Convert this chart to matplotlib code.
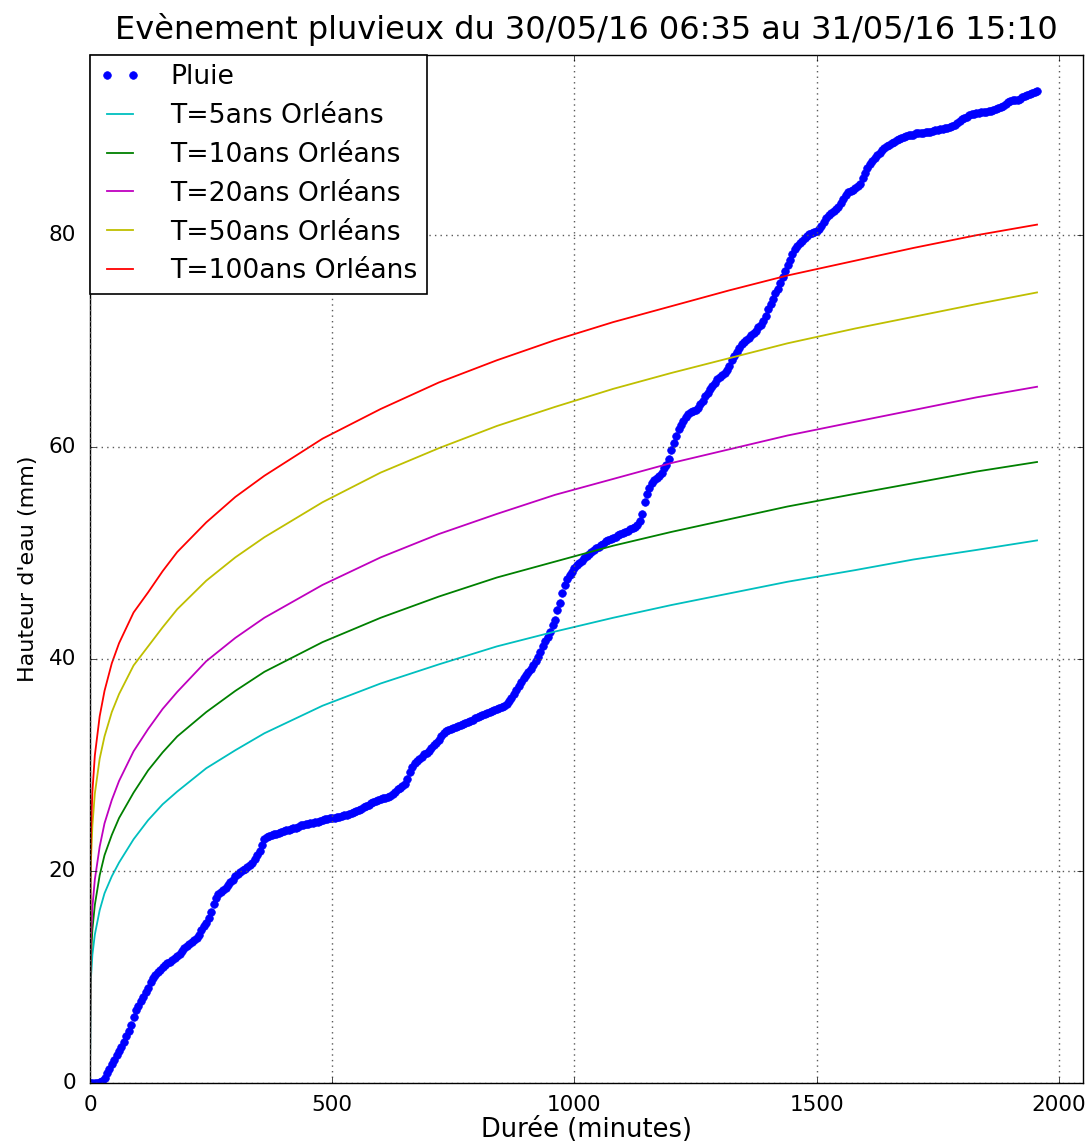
import numpy as np
import matplotlib
matplotlib.use("Agg")
import matplotlib.pyplot as plt

# Pluie cumulée, un point toutes les 5 minutes (mm)
pluie_t = np.arange(0, 1960, 5)
pluie_h = [
    0, 0, 0, 0, 0.1, 0.2, 0.5, 0.9, 1.3, 1.8, 2.2, 2.6,
    3.0, 3.4, 3.9, 4.4, 4.9, 5.5, 6.2, 6.9, 7.3, 7.7, 8.1, 8.6,
    9.0, 9.5, 9.9, 10.2, 10.5, 10.7, 10.9, 11.1, 11.3, 11.4, 11.6, 11.8,
    12.0, 12.2, 12.5, 12.7, 12.9, 13.1, 13.3, 13.5, 13.7, 14.0, 14.4, 14.8,
    15.1, 15.6, 16.1, 16.9, 17.5, 17.8, 18.0, 18.2, 18.4, 18.7, 19.0, 19.2,
    19.5, 19.7, 19.9, 20.1, 20.2, 20.4, 20.6, 20.8, 21.1, 21.5, 21.9, 22.5,
    23.0, 23.2, 23.3, 23.4, 23.5, 23.5, 23.6, 23.7, 23.8, 23.9, 23.9, 24.0,
    24.1, 24.1, 24.2, 24.3, 24.3, 24.4, 24.4, 24.5, 24.5, 24.6, 24.6, 24.7,
    24.8, 24.9, 24.9, 25.0, 25.0, 25.0, 25.1, 25.1, 25.2, 25.3, 25.3, 25.4,
    25.5, 25.6, 25.7, 25.8, 25.9, 26.0, 26.1, 26.2, 26.4, 26.5, 26.6, 26.7,
    26.8, 26.9, 26.9, 27.0, 27.1, 27.3, 27.5, 27.7, 27.8, 28.0, 28.2, 28.7,
    29.3, 29.8, 30.2, 30.4, 30.6, 30.8, 31.0, 31.1, 31.3, 31.6, 31.9, 32.1,
    32.4, 32.7, 33.0, 33.2, 33.3, 33.4, 33.5, 33.6, 33.7, 33.8, 33.9, 34.0,
    34.1, 34.2, 34.3, 34.4, 34.5, 34.6, 34.7, 34.8, 34.9, 35.0, 35.1, 35.2,
    35.3, 35.4, 35.5, 35.6, 35.8, 36.0, 36.3, 36.7, 37.1, 37.5, 37.8, 38.2,
    38.5, 38.8, 39.1, 39.4, 39.8, 40.2, 40.7, 41.2, 41.7, 42.1, 42.6, 43.2,
    43.7, 44.6, 45.3, 46.2, 47.0, 47.6, 47.9, 48.2, 48.6, 48.9, 49.1, 49.3,
    49.5, 49.7, 49.9, 50.1, 50.3, 50.5, 50.6, 50.8, 50.9, 51.1, 51.2, 51.3,
    51.4, 51.5, 51.7, 51.8, 51.9, 52.0, 52.1, 52.3, 52.4, 52.5, 52.7, 53.0,
    53.7, 54.8, 55.6, 56.1, 56.6, 56.9, 57.1, 57.3, 57.6, 58.0, 58.3, 58.9,
    59.7, 60.4, 61.1, 61.7, 62.1, 62.5, 62.8, 63.1, 63.3, 63.4, 63.5, 63.7,
    64.1, 64.4, 64.8, 65.1, 65.5, 65.8, 66.1, 66.4, 66.6, 66.8, 67.0, 67.3,
    67.7, 68.2, 68.6, 69.0, 69.4, 69.7, 69.9, 70.1, 70.3, 70.6, 70.8, 71.0,
    71.3, 71.5, 71.9, 72.4, 73.0, 73.5, 74.0, 74.5, 74.9, 75.5, 76.1, 76.6,
    77.2, 77.7, 78.2, 78.7, 79.0, 79.3, 79.5, 79.7, 79.9, 80.1, 80.2, 80.3,
    80.4, 80.6, 80.9, 81.2, 81.6, 81.9, 82.1, 82.3, 82.5, 82.7, 83.0, 83.4,
    83.8, 84.1, 84.2, 84.3, 84.5, 84.6, 84.8, 85.4, 85.9, 86.3, 86.7, 87.0,
    87.3, 87.6, 87.8, 88.0, 88.2, 88.4, 88.5, 88.7, 88.8, 89.0, 89.1, 89.2,
    89.3, 89.4, 89.5, 89.5, 89.5, 89.6, 89.6, 89.6, 89.6, 89.7, 89.7, 89.7,
    89.8, 89.9, 89.9, 90.0, 90.0, 90.1, 90.1, 90.2, 90.3, 90.4, 90.6, 90.8,
    91.0, 91.1, 91.2, 91.3, 91.4, 91.4, 91.5, 91.5, 91.6, 91.6, 91.6, 91.7,
    91.7, 91.8, 91.9, 92.0, 92.1, 92.2, 92.4, 92.6, 92.7, 92.8, 92.8, 92.8,
    92.9, 93.0, 93.1, 93.2, 93.3, 93.4, 93.5, 93.6,
]

# Courbes de référence Orléans (hauteur en mm selon la durée en minutes)
duree = [0, 1, 2, 5, 10, 20, 30, 45, 60, 90, 120, 150, 180, 240, 300, 360,
         480, 600, 720, 840, 960, 1080, 1200, 1320, 1440, 1580, 1700, 1830, 1955]
h_T5 = [0, 8.5, 9.9, 12.1, 14.0, 16.3, 17.9, 19.5, 20.8, 23.0, 24.8, 26.3, 27.5,
        29.7, 31.4, 33.0, 35.6, 37.7, 39.5, 41.2, 42.6, 43.9, 45.1, 46.2, 47.3,
        48.4, 49.4, 50.3, 51.2]
h_T10 = [0, 10.2, 11.9, 14.5, 16.8, 19.6, 21.5, 23.4, 25.0, 27.4, 29.5, 31.2, 32.7,
         35.0, 37.0, 38.8, 41.6, 43.9, 45.9, 47.7, 49.2, 50.7, 52.0, 53.2, 54.4,
         55.6, 56.6, 57.7, 58.6]
h_T20 = [0, 11.6, 13.6, 16.6, 19.2, 22.3, 24.5, 26.7, 28.5, 31.3, 33.4, 35.3, 36.9,
         39.8, 42.0, 43.9, 47.0, 49.6, 51.8, 53.7, 55.5, 57.0, 58.5, 59.8, 61.1,
         62.4, 63.5, 64.7, 65.7]
h_T50 = [0, 18.7, 21.0, 24.3, 27.3, 30.6, 32.7, 35.0, 36.7, 39.4, 41.2, 43.0, 44.7,
         47.4, 49.6, 51.5, 54.8, 57.6, 59.9, 62.0, 63.8, 65.5, 67.0, 68.4, 69.8,
         71.2, 72.3, 73.5, 74.6]
h_T100 = [0, 21.1, 23.7, 27.5, 30.9, 34.6, 37.0, 39.6, 41.5, 44.4, 46.3, 48.3, 50.1,
          52.9, 55.3, 57.3, 60.8, 63.6, 66.1, 68.2, 70.1, 71.8, 73.3, 74.8, 76.2,
          77.6, 78.8, 80.0, 81.0]

plt.style.use('classic')

fig = plt.figure(figsize=(10.92, 11.47), dpi=100, facecolor='white')
ax = fig.add_axes([0.0824, 0.0558, 0.9094, 0.8962])

ax.plot(pluie_t, pluie_h, 'bo', markersize=5.5, markeredgecolor='b',
        markeredgewidth=0.5, label='Pluie')
ax.plot(duree, h_T5, 'c-', lw=1.3, label='T=5ans Orléans')
ax.plot(duree, h_T10, 'g-', lw=1.3, label='T=10ans Orléans')
ax.plot(duree, h_T20, 'm-', lw=1.3, label='T=20ans Orléans')
ax.plot(duree, h_T50, 'y-', lw=1.3, label='T=50ans Orléans')
ax.plot(duree, h_T100, 'r-', lw=1.3, label='T=100ans Orléans')

ax.set_xlim(0, 2050)
ax.set_ylim(0, 97)
ax.set_xticks([0, 500, 1000, 1500, 2000])
ax.set_yticks([0, 20, 40, 60, 80])
ax.tick_params(labelsize=15.5)
ax.tick_params(axis='y', pad=10)
ax.tick_params(axis='x', pad=9)
ax.grid(True, color='0.35', linestyle=':', linewidth=1)

ax.set_xlabel('Durée (minutes)', fontsize=18.5, labelpad=1)
ax.set_ylabel("Hauteur d'eau (mm)", fontsize=16, labelpad=8)
ax.set_title('Evènement pluvieux du 30/05/16 06:35 au 31/05/16 15:10',
             fontsize=23, y=1.009)

leg = ax.legend(loc='upper left', numpoints=2, fontsize=19.2, handlelength=1.55,
                borderaxespad=0, borderpad=0.35, labelspacing=0.48,
                handletextpad=1.1, fancybox=False)
leg.get_frame().set_edgecolor('k')
leg.get_frame().set_linewidth(1.2)

fig.savefig('out.png', dpi=100, facecolor='white')
